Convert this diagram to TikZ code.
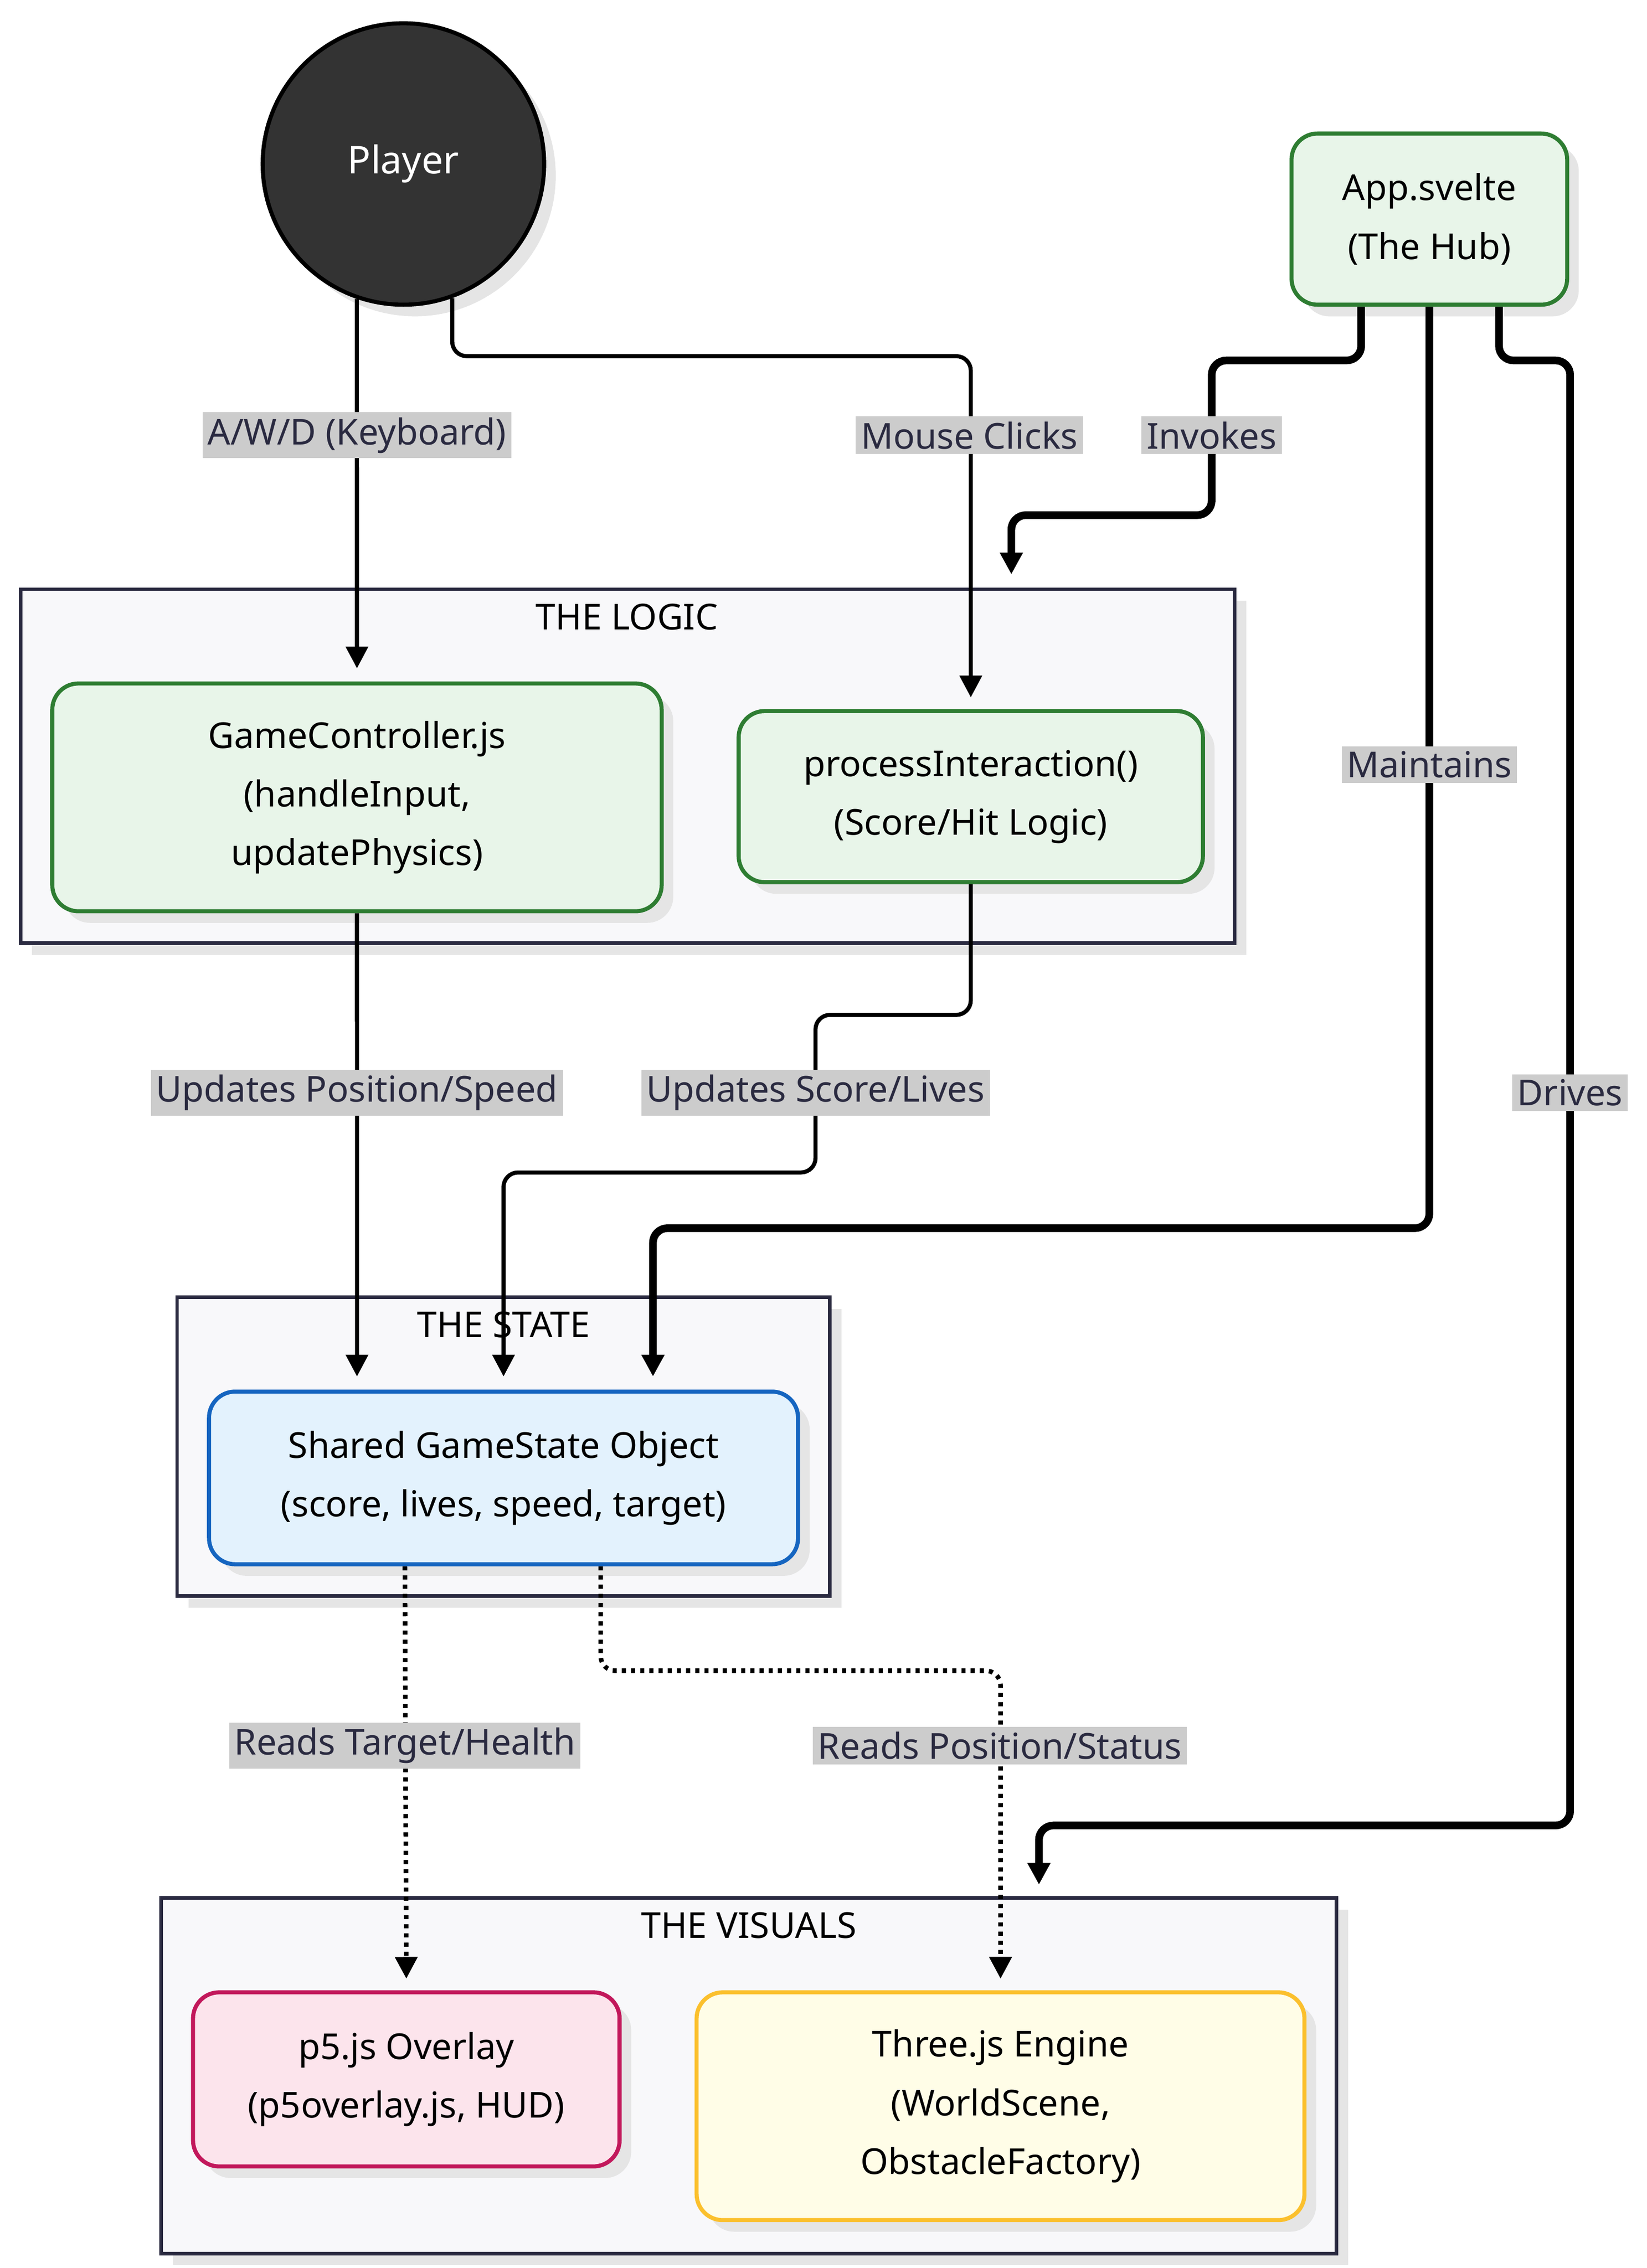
\documentclass[tikz,border=0pt]{standalone}
\usepackage{fontspec}
\setmainfont{Noto Sans}
\usetikzlibrary{arrows.meta,calc}
\definecolor{grnfill}{HTML}{E8F5E9}
\definecolor{grnline}{HTML}{2E7D32}
\definecolor{blufill}{HTML}{E3F2FD}
\definecolor{bluline}{HTML}{1565C0}
\definecolor{pnkfill}{HTML}{FCE4EC}
\definecolor{pnkline}{HTML}{C2185B}
\definecolor{yelfill}{HTML}{FFFDE7}
\definecolor{yelline}{HTML}{FBC02D}
\definecolor{clfill}{HTML}{F8F8FA}
\definecolor{clline}{HTML}{2A2A40}
\definecolor{ink}{HTML}{333333}
\tikzset{
  box/.style={draw, rounded corners=0.36cm, line width=1.6pt, align=center,
    font=\fontsize{14}{23}\selectfont,
    append after command={}},
  shadowed/.style={preaction={fill=black!10, draw=none, transform canvas={xshift=0.16cm, yshift=-0.16cm}}},
  cluster/.style={draw=clline, fill=clfill, line width=1.4pt, shadowed},
  ctitle/.style={font=\fontsize{14}{17}\selectfont, text=black},
  lbl/.style={fill=black!20, text=clline, inner sep=2pt, font=\fontsize{14}{17}\selectfont},
  flow/.style={line width=1.6pt, rounded corners=0.2cm, -{Triangle[length=0.3cm, width=0.3cm]}},
  hub/.style={flow, line width=3pt},
  reads/.style={flow, dotted, line width=1.8pt},
}
\begin{document}
\begin{tikzpicture}[x=0.02cm, y=-0.02cm]
  \useasboundingbox (0,0) rectangle (1135,1563);
  % Gruppen
  \node[cluster, minimum width=16.74cm, minimum height=4.88cm] (logic) at (432.5,528) {};
  \node[ctitle] at (432,425) {THE LOGIC};
  \node[cluster, minimum width=9cm, minimum height=4.12cm] (state) at (347,997) {};
  \node[ctitle] at (347,913) {THE STATE};
  \node[cluster, minimum width=16.2cm, minimum height=4.9cm] (visuals) at (516,1430.5) {};
  \node[ctitle] at (516,1327) {THE VISUALS};

  % Knoten
  \node[circle, draw=black, line width=1.6pt, fill=ink, shadowed, minimum size=3.88cm,
    text=white, font=\fontsize{15}{18}\selectfont\bfseries] (player) at (278,113) {Player};
  \node[box, shadowed, draw=grnline, fill=grnfill, minimum width=3.8cm, minimum height=2.36cm] (app) at (985,151) {App.svelte\\(The Hub)};
  \node[box, shadowed, draw=grnline, fill=grnfill, minimum width=8.4cm, minimum height=3.14cm] (gc) at (246,549.5) {GameController.js\\(handleInput,\\updatePhysics)};
  \node[box, shadowed, draw=grnline, fill=grnfill, minimum width=6.4cm, minimum height=2.36cm] (pi) at (669,549) {processInteraction()\\(Score/Hit Logic)};
  \node[box, shadowed, draw=bluline, fill=blufill, minimum width=8.12cm, minimum height=2.38cm] (shared) at (347,1018.5) {Shared GameState Object\\(score, lives, speed, target)};
  \node[box, shadowed, draw=pnkline, fill=pnkfill, minimum width=5.88cm, minimum height=2.4cm] (p5) at (280,1433) {p5.js Overlay\\(p5overlay.js, HUD)};
  \node[box, shadowed, draw=yelline, fill=yelfill, minimum width=8.38cm, minimum height=3.14cm] (three) at (689.5,1451.5) {Three.js Engine\\(WorldScene,\\ObstacleFactory)};

  % Verbindungen
  \draw[flow] (player.-109) -- ([yshift=0.18cm]gc.north);
  \draw[flow] (player.-70) -- ++(0,40) -| ([yshift=0.16cm]pi.north);
  \draw[hub] ([xshift=-0.94cm]app.south) -- ++(0,37) -| (835,355) -| ($(logic.north)+(5.29cm,0.18cm)$);
  \draw[hub] (app.south) -- ++(0,635) -| ([xshift=2.06cm, yshift=0.18cm]shared.north);
  \draw[hub] ([xshift=0.96cm]app.south) -- ++(0,37) -| (1082,1258) -| ($(visuals.north)+(4cm,0.16cm)$);
  \draw[flow] (gc.south) -- ([xshift=-2.02cm, yshift=0.18cm]shared.north);
  \draw[flow] (pi.south) -- ++(0,90) -| (562,808) -| ([yshift=0.18cm]shared.north);
  \draw[reads] ([xshift=-1.36cm]shared.south) -- ([yshift=0.16cm]p5.north);
  \draw[reads] ([xshift=1.34cm]shared.south) -- ++(0,72) -| ([yshift=0.16cm]three.north);

  % Beschriftungen
  \node[lbl] at (246,300) {A/W/D (Keyboard)};
  \node[lbl] at (668,300) {Mouse Clicks};
  \node[lbl] at (835,300) {Invokes};
  \node[lbl] at (985,527) {Maintains};
  \node[lbl] at (1082,753) {Drives};
  \node[lbl] at (246,753) {Updates Position/Speed};
  \node[lbl] at (562,753) {Updates Score/Lives};
  \node[lbl] at (279,1203) {Reads Target/Health};
  \node[lbl] at (689,1203) {Reads Position/Status};
\end{tikzpicture}
\end{document}
